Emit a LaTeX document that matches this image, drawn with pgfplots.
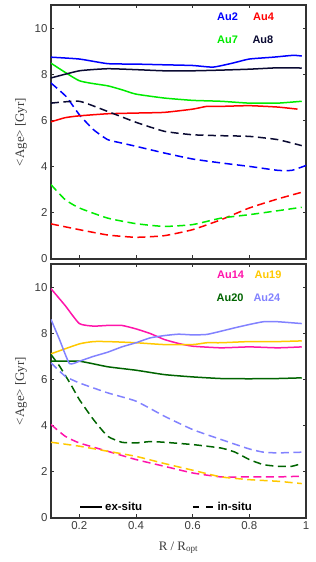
\documentclass[border=0pt]{standalone}
\usepackage{fontspec}
\setmainfont{Liberation Serif}
\setsansfont{Liberation Sans}
\usepackage{pgfplots}
\pgfplotsset{compat=1.18}
\definecolor{au2}{RGB}{0,0,255}
\definecolor{au4}{RGB}{255,0,0}
\definecolor{au7}{RGB}{0,235,0}
\definecolor{au8}{RGB}{10,10,50}
\definecolor{au14}{RGB}{255,20,170}
\definecolor{au19}{RGB}{255,200,0}
\definecolor{au20}{RGB}{0,100,0}
\definecolor{au24}{RGB}{130,130,255}
\definecolor{frame}{RGB}{50,50,50}
\definecolor{tlab}{RGB}{60,60,60}
\pgfplotsset{
  panel/.style={
    scale only axis, width=255bp, height=254bp,
    xmin=0.1, xmax=1, ymin=0, ymax=11,
    xtick={0.2,0.4,0.6,0.8,1}, ytick={0,2,4,6,8,10},
    tick align=inside, major tick length=3.5bp,
    axis line style={draw=frame, line width=1.5bp},
    tick style={draw=frame, line width=0.9bp},
    ticklabel style={font=\sffamily\fontsize{11.5}{13}\selectfont, text=tlab},
    /pgf/number format/assume math mode=true,
    ylabel={<Age> [Gyr]},
    every axis y label/.style={at={(axis description cs:-0.118,0.5)}, rotate=90, anchor=center, font=\fontsize{13}{15}\selectfont, text=tlab},
    every axis plot/.append style={line width=1.5bp, smooth, tension=0.3},
  },
  sol/.style={solid},
  das/.style={dash pattern=on 8bp off 4.5bp},
}
\tikzset{lab/.style={font=\sffamily\bfseries\fontsize{11}{13}\selectfont, anchor=center}}
\begin{document}
\begin{tikzpicture}
\useasboundingbox (-51bp,-44bp) rectangle (265bp,518bp);
% bottom panel
\begin{axis}[panel, at={(0,0)}, anchor=south west,
  xlabel={R / R$_{\mathrm{opt}}$},
  every axis x label/.style={at={(axis description cs:0.5,-0.126)}, anchor=base, font=\fontsize{13}{15}\selectfont, text=tlab},
  legend columns=2,
  legend style={draw=none, fill=none, at={(axis description cs:0.1,0.043)}, anchor=west,
    font=\sffamily\bfseries\fontsize{11.5}{13}\selectfont,
    /tikz/every even column/.append style={column sep=48bp}},
  legend image code/.code={\draw[#1] (0bp,0bp) -- (22bp,0bp);},
]
\addlegendimage{black, line width=1.5bp, solid}
\addlegendentry{ex-situ}
\addlegendimage{black, line width=1.5bp, dash pattern=on 6.5bp off 7bp}
\addlegendentry{in-situ}
% Au14
\addplot[au14, sol] coordinates {(0.1,9.93)(0.15,9.2)(0.2,8.42)(0.25,8.31)(0.3,8.34)(0.35,8.34)(0.4,8.19)(0.45,7.99)(0.5,7.73)(0.55,7.56)(0.6,7.44)(0.7,7.37)(0.8,7.41)(0.9,7.37)(0.985,7.41)};
\addplot[au14, das] coordinates {(0.1,4.05)(0.15,3.54)(0.2,3.25)(0.3,2.89)(0.4,2.53)(0.5,2.24)(0.6,1.95)(0.7,1.78)(0.8,1.78)(0.9,1.78)(0.985,1.81)};
% Au19
\addplot[au19, sol] coordinates {(0.1,7.11)(0.2,7.54)(0.25,7.64)(0.3,7.64)(0.4,7.59)(0.5,7.51)(0.6,7.51)(0.65,7.59)(0.7,7.59)(0.8,7.64)(0.9,7.64)(0.985,7.67)};
\addplot[au19, das] coordinates {(0.1,3.28)(0.2,3.11)(0.3,2.89)(0.4,2.67)(0.5,2.36)(0.6,2.07)(0.7,1.78)(0.8,1.66)(0.9,1.59)(0.985,1.49)};
% Au20
\addplot[au20, sol] coordinates {(0.1,6.79)(0.2,6.79)(0.3,6.55)(0.4,6.4)(0.5,6.21)(0.6,6.11)(0.7,6.04)(0.8,6.03)(0.9,6.04)(0.985,6.07)};
\addplot[au20, das] coordinates {(0.1,7.08)(0.13,6.58)(0.17,5.78)(0.2,5.13)(0.25,4.26)(0.3,3.54)(0.35,3.28)(0.4,3.25)(0.45,3.31)(0.5,3.28)(0.6,3.18)(0.7,3.03)(0.75,2.85)(0.8,2.53)(0.85,2.31)(0.9,2.24)(0.95,2.24)(0.985,2.36)};
% Au24
\addplot[au24, sol] coordinates {(0.1,8.6)(0.13,7.73)(0.165,6.69)(0.2,6.79)(0.25,7.0)(0.3,7.18)(0.35,7.41)(0.4,7.59)(0.45,7.8)(0.5,7.9)(0.55,7.96)(0.6,7.93)(0.65,7.95)(0.7,8.09)(0.75,8.24)(0.8,8.38)(0.85,8.5)(0.9,8.5)(0.985,8.42)};
\addplot[au24, das] coordinates {(0.1,6.72)(0.15,6.14)(0.2,5.85)(0.3,5.42)(0.4,5.06)(0.5,4.41)(0.6,3.83)(0.7,3.4)(0.8,2.99)(0.85,2.85)(0.9,2.82)(0.985,2.85)};
\node[lab, text=au14] at (axis cs:0.734,10.52) {Au14};
\node[lab, text=au19] at (axis cs:0.866,10.52) {Au19};
\node[lab, text=au20] at (axis cs:0.732,9.52) {Au20};
\node[lab, text=au24] at (axis cs:0.862,9.52) {Au24};
\end{axis}
% top panel
\begin{axis}[panel, at={(0,259bp)}, anchor=south west, xticklabels={}]
% Au2
\addplot[au2, sol] coordinates {(0.1,8.74)(0.2,8.66)(0.3,8.46)(0.4,8.44)(0.5,8.41)(0.6,8.38)(0.672,8.31)(0.74,8.48)(0.8,8.66)(0.884,8.74)(0.955,8.82)(0.985,8.79)};
\addplot[au2, das] coordinates {(0.1,7.62)(0.153,7.04)(0.2,6.25)(0.25,5.6)(0.3,5.17)(0.35,5.02)(0.4,4.88)(0.5,4.59)(0.6,4.33)(0.7,4.16)(0.8,4.01)(0.9,3.84)(0.95,3.84)(1.0,4.05)};
% Au4
\addplot[au4, sol] coordinates {(0.1,5.94)(0.15,6.12)(0.2,6.2)(0.3,6.29)(0.4,6.32)(0.5,6.35)(0.6,6.49)(0.65,6.61)(0.7,6.61)(0.8,6.64)(0.9,6.58)(0.97,6.49)};
\addplot[au4, das] coordinates {(0.1,1.52)(0.2,1.27)(0.3,1.04)(0.4,0.94)(0.5,1.01)(0.6,1.27)(0.7,1.7)(0.8,2.21)(0.9,2.6)(0.985,2.89)};
% Au7
\addplot[au7, sol] coordinates {(0.1,8.48)(0.2,7.72)(0.3,7.5)(0.35,7.33)(0.4,7.14)(0.5,6.97)(0.6,6.87)(0.7,6.83)(0.8,6.75)(0.9,6.75)(0.985,6.83)};
\addplot[au7, das] coordinates {(0.1,3.22)(0.15,2.57)(0.2,2.21)(0.3,1.77)(0.4,1.53)(0.5,1.41)(0.6,1.49)(0.7,1.77)(0.8,1.92)(0.9,2.09)(0.985,2.24)};
% Au8
\addplot[au8, sol] coordinates {(0.1,7.84)(0.2,8.15)(0.3,8.24)(0.4,8.2)(0.5,8.15)(0.6,8.15)(0.7,8.18)(0.8,8.22)(0.9,8.28)(0.985,8.27)};
\addplot[au8, das] coordinates {(0.1,6.75)(0.2,6.83)(0.3,6.39)(0.4,5.92)(0.5,5.53)(0.6,5.38)(0.7,5.34)(0.8,5.31)(0.9,5.17)(0.985,4.91)};
\node[lab, text=au2] at (axis cs:0.723,10.48) {Au2};
\node[lab, text=au4] at (axis cs:0.85,10.48) {Au4};
\node[lab, text=au7] at (axis cs:0.723,9.48) {Au7};
\node[lab, text=au8] at (axis cs:0.848,9.48) {Au8};
\end{axis}
\end{tikzpicture}
\end{document}
